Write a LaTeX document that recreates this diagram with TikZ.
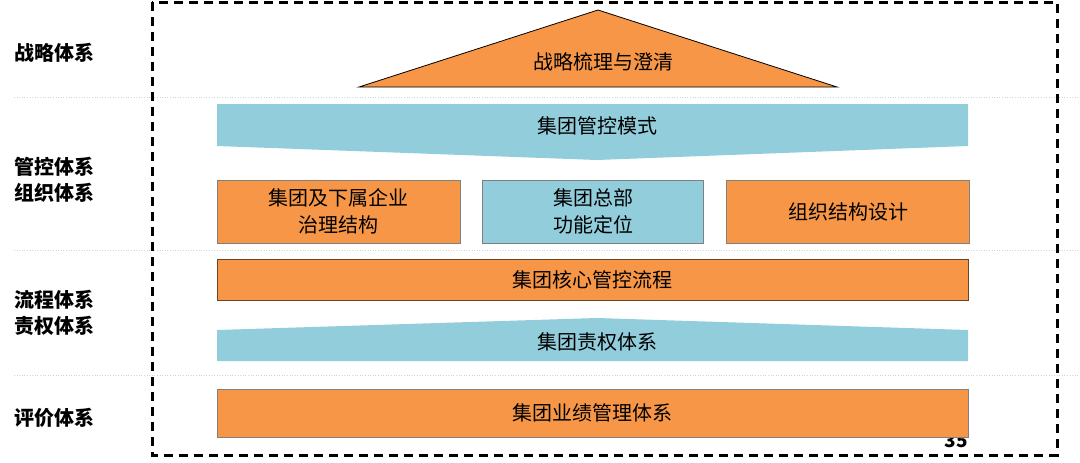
\documentclass[tikz,border=0pt]{standalone}
\usepackage{fontspec}
\setmainfont{Noto Sans CJK SC}
\usetikzlibrary{positioning}
\definecolor{boxorange}{RGB}{247,150,70}
\definecolor{bandblue}{RGB}{146,205,220}

\begin{document}
\begin{tikzpicture}[x=1pt,y=-1pt,node distance=22pt,
  font=\fontsize{20}{27}\selectfont,
  box/.style={draw=black!50,line width=0.8pt,minimum height=63pt,align=center,inner sep=0pt},
  side/.style={anchor=west,inner sep=0pt,align=left,font=\fontsize{20}{26}\selectfont\bfseries},
  sep/.style={gray!35,dotted,line width=0.6pt}]
   \useasboundingbox (0,0) rectangle (1080,463);
   \foreach \y in {97,250,375}
      \draw[sep] (14,\y) -- (1078,\y);
   % row labels on the left
   \node[side] (lstrat) at (14,53) {战略体系};
   \node[side] (lctrl) at (14,180) {管控体系\\组织体系};
   \node[side] (lflow) at (14,313) {流程体系\\责权体系};
   \node[side] (leval) at (14,418) {评价体系};
   % strategy roof
   \filldraw[fill=boxorange,draw=black,line width=0.8pt] (359,87) -- (598,10) -- (837,87) -- cycle;
   \node (strat) at (603,62) {战略梳理与澄清};
   % control band
   \fill[bandblue] (217,104) -- (968,104) -- (968,146) -- (597,160) -- (217,146) -- cycle;
   \node (mode) at (597,126) {集团管控模式};
   \node[box,fill=boxorange,minimum width=243pt] (gov) at (338.5,211.5) {集团及下属企业\\治理结构};
   \node[box,fill=bandblue,minimum width=221pt,right=of gov] (hq) {集团总部\\功能定位};
   \node[box,fill=boxorange,minimum width=243pt,right=of hq] (org) {组织结构设计};
   % process and duty
   \node[box,fill=boxorange,draw=brown!55!black,minimum width=751pt,minimum height=41pt] (flow) at (592.5,280) {\raisebox{-4pt}{集团核心管控流程}};
   \fill[bandblue] (217,330) -- (597,318) -- (968,330) -- (968,361) -- (217,361) -- cycle;
   \node (duty) at (597,342) {集团责权体系};
   % evaluation
   \node[font=\fontsize{19}{19}\selectfont\bfseries] (pgnum) at (956,441) {35};
   \node[box,fill=boxorange,minimum width=751pt,minimum height=48pt] (perf) at (592.5,413) {集团业绩管理体系};
   \draw[dash pattern=on 9pt off 6pt,line width=3pt] (152,2) rectangle (1057,455);
\end{tikzpicture}
\end{document}
